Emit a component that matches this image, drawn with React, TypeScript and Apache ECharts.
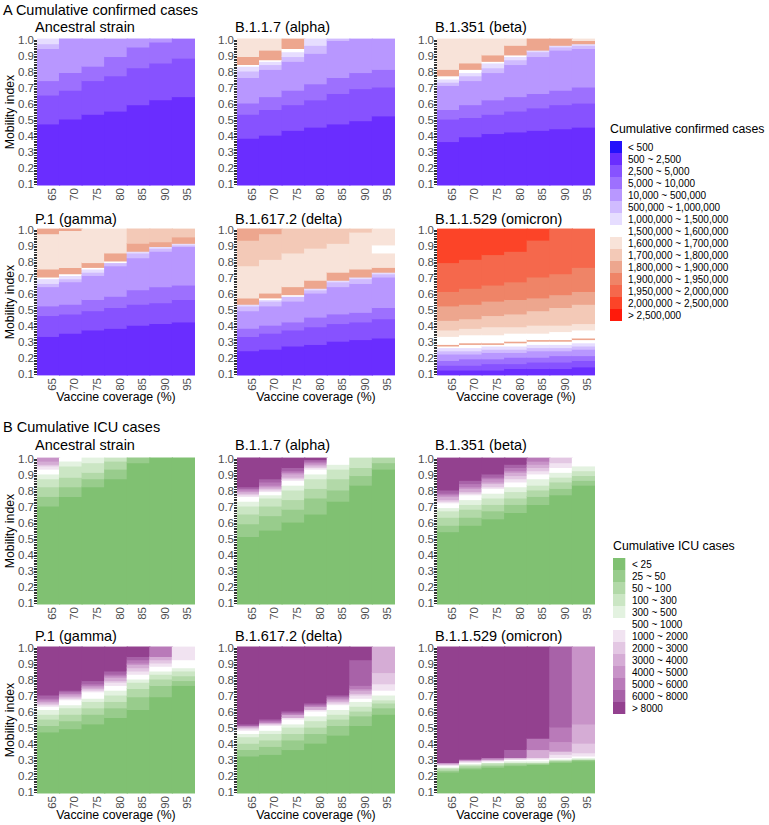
import React, { useEffect, useRef } from 'react';
import * as echarts from 'echarts';

// ---------- axis categories / tick labels ----------
const coverage = ['65', '70', '75', '80', '85', '90', '95'];
const mobilityLabels = ['0.1', '0.2', '0.3', '0.4', '0.5', '0.6', '0.7', '0.8', '0.9', '1.0'];

// ---------- legend levels ----------
const casesLevels = [
  '< 500', '500 ~ 2,500', '2,500 ~ 5,000', '5,000 ~ 10,000', '10,000 ~ 500,000',
  '500,000 ~ 1,000,000', '1,000,000 ~ 1,500,000', '1,500,000 ~ 1,600,000',
  '1,600,000 ~ 1,700,000', '1,700,000 ~ 1,800,000', '1,800,000 ~ 1,900,000',
  '1,900,000 ~ 1,950,000', '1,950,000 ~ 2,000,000', '2,000,000 ~ 2,500,000', '> 2,500,000',
];
const casesColors = [
  '#2412fb', '#6a2dff', '#8752ff', '#9d70fe', '#b897ff', '#d0bbff', '#e6ddff', '#ffffff',
  '#f8e3d9', '#f3c9b7', '#eda68e', '#ef8467', '#f5684c', '#fc4428', '#ff1a0b',
];
const icuLevels = [
  '< 25', '25 ~ 50', '50 ~ 100', '100 ~ 300', '300 ~ 500', '500 ~ 1000', '1000 ~ 2000',
  '2000 ~ 3000', '3000 ~ 4000', '4000 ~ 5000', '5000 ~ 6000', '6000 ~ 8000', '> 8000',
];
const icuColors = [
  '#80c172', '#98cc8c', '#b2d9a8', '#cbe6c4', '#e3f2e0', '#ffffff', '#f1e3f1',
  '#e3c7e3', '#d5acd5', '#c893c8', '#b97ab9', '#a862a8', '#93418f',
];

// ---------- data: per coverage column, bands [level, top mobility] from bottom ----------
const casesAncestral = [
  [[1, 0.47], [2, 0.65], [3, 0.74], [4, 0.94], [5, 0.97], [6, 1.0]],
  [[1, 0.50], [2, 0.68], [3, 0.79], [4, 1.0]],
  [[1, 0.53], [2, 0.74], [3, 0.83], [4, 1.0]],
  [[1, 0.55], [2, 0.77], [3, 0.89], [4, 1.0]],
  [[1, 0.59], [2, 0.82], [3, 0.95], [4, 1.0]],
  [[1, 0.62], [2, 0.85], [3, 0.98], [4, 1.0]],
  [[1, 0.64], [2, 0.88], [3, 1.0]],
];
const casesAlpha = [
  [[1, 0.38], [2, 0.53], [3, 0.60], [4, 0.76], [5, 0.80], [6, 0.83], [7, 0.84], [10, 0.89], [8, 1.0]],
  [[1, 0.40], [2, 0.56], [3, 0.64], [4, 0.81], [5, 0.84], [6, 0.86], [7, 0.87], [10, 0.93], [8, 1.0]],
  [[1, 0.43], [2, 0.59], [3, 0.68], [4, 0.86], [5, 0.89], [6, 0.92], [7, 0.94], [10, 1.0]],
  [[1, 0.45], [2, 0.62], [3, 0.72], [4, 0.91], [5, 0.96], [6, 1.0]],
  [[1, 0.47], [2, 0.66], [3, 0.76], [4, 0.99], [5, 1.0]],
  [[1, 0.49], [2, 0.69], [3, 0.79], [4, 1.0]],
  [[1, 0.52], [2, 0.70], [3, 0.81], [4, 1.0]],
];
const casesBeta = [
  [[1, 0.36], [2, 0.50], [3, 0.56], [4, 0.71], [5, 0.73], [6, 0.75], [7, 0.77], [10, 0.81], [8, 1.0]],
  [[1, 0.39], [2, 0.51], [3, 0.59], [4, 0.74], [5, 0.77], [6, 0.79], [7, 0.81], [10, 0.85], [8, 1.0]],
  [[1, 0.41], [2, 0.53], [3, 0.62], [4, 0.79], [5, 0.82], [6, 0.85], [7, 0.86], [10, 0.90], [8, 1.0]],
  [[1, 0.42], [2, 0.55], [3, 0.64], [4, 0.84], [5, 0.87], [6, 0.89], [7, 0.90], [10, 0.96], [8, 1.0]],
  [[1, 0.43], [2, 0.57], [3, 0.66], [4, 0.89], [5, 0.92], [6, 0.93], [10, 1.0]],
  [[1, 0.44], [2, 0.59], [3, 0.68], [4, 0.93], [5, 0.95], [6, 0.96], [10, 1.0]],
  [[1, 0.45], [2, 0.60], [3, 0.70], [4, 0.94], [5, 0.96], [6, 0.97], [10, 0.99], [8, 1.0]],
];
const casesGamma = [
  [[1, 0.33], [2, 0.46], [3, 0.52], [4, 0.64], [5, 0.66], [6, 0.69], [7, 0.70], [10, 0.75], [8, 0.97], [10, 1.0]],
  [[1, 0.35], [2, 0.47], [3, 0.53], [4, 0.67], [5, 0.69], [6, 0.71], [7, 0.72], [10, 0.76], [8, 0.99], [10, 1.0]],
  [[1, 0.37], [2, 0.49], [3, 0.56], [4, 0.71], [5, 0.73], [6, 0.75], [7, 0.76], [10, 0.79], [8, 1.0]],
  [[1, 0.38], [2, 0.51], [3, 0.58], [4, 0.77], [5, 0.79], [7, 0.80], [10, 0.85], [8, 1.0]],
  [[1, 0.40], [2, 0.53], [3, 0.62], [4, 0.82], [5, 0.85], [6, 0.86], [10, 0.91], [9, 1.0]],
  [[1, 0.41], [2, 0.54], [3, 0.64], [4, 0.86], [5, 0.88], [6, 0.89], [10, 0.92], [9, 1.0]],
  [[1, 0.42], [2, 0.56], [3, 0.65], [4, 0.89], [5, 0.90], [6, 0.91], [10, 0.95], [9, 1.0]],
];
const casesDelta = [
  [[1, 0.24], [2, 0.33], [3, 0.38], [4, 0.49], [5, 0.52], [6, 0.53], [10, 0.57], [8, 0.77], [9, 0.93], [10, 1.0]],
  [[1, 0.25], [2, 0.35], [3, 0.40], [4, 0.52], [5, 0.55], [6, 0.56], [7, 0.57], [10, 0.60], [8, 0.81], [9, 0.97], [10, 1.0]],
  [[1, 0.27], [2, 0.37], [3, 0.42], [4, 0.55], [5, 0.58], [7, 0.59], [10, 0.64], [8, 0.85], [9, 1.0]],
  [[1, 0.28], [2, 0.39], [3, 0.45], [4, 0.60], [5, 0.62], [6, 0.63], [10, 0.68], [8, 0.88], [9, 1.0]],
  [[1, 0.30], [2, 0.41], [3, 0.47], [4, 0.64], [5, 0.67], [6, 0.68], [10, 0.73], [8, 0.91], [9, 1.0]],
  [[1, 0.31], [2, 0.42], [3, 0.48], [4, 0.66], [5, 0.69], [6, 0.70], [10, 0.75], [8, 0.98], [9, 1.0]],
  [[1, 0.32], [2, 0.44], [3, 0.51], [4, 0.70], [5, 0.72], [6, 0.73], [10, 0.76], [8, 0.85], [7, 0.90], [8, 1.0]],
];
const casesOmicron = [
  [[1, 0.12], [2, 0.15], [3, 0.18], [4, 0.22], [5, 0.24], [6, 0.26], [7, 0.27], [10, 0.28], [7, 0.33], [8, 0.37], [9, 0.43], [10, 0.52], [11, 0.61], [12, 0.79], [13, 1.0]],
  [[1, 0.12], [2, 0.15], [3, 0.19], [4, 0.22], [5, 0.24], [6, 0.26], [7, 0.28], [10, 0.29], [7, 0.34], [8, 0.38], [9, 0.44], [10, 0.53], [11, 0.63], [12, 0.81], [13, 1.0]],
  [[1, 0.12], [2, 0.16], [3, 0.19], [4, 0.23], [5, 0.25], [6, 0.27], [7, 0.28], [10, 0.29], [7, 0.34], [8, 0.39], [9, 0.46], [10, 0.55], [11, 0.65], [12, 0.84], [13, 1.0]],
  [[1, 0.13], [2, 0.16], [3, 0.20], [4, 0.23], [5, 0.25], [6, 0.27], [7, 0.29], [10, 0.30], [7, 0.35], [8, 0.39], [9, 0.47], [10, 0.56], [11, 0.67], [12, 0.86], [13, 1.0]],
  [[1, 0.13], [2, 0.17], [3, 0.20], [4, 0.24], [5, 0.26], [6, 0.28], [7, 0.30], [10, 0.31], [7, 0.35], [8, 0.40], [9, 0.49], [10, 0.57], [11, 0.70], [12, 0.93], [13, 1.0]],
  [[1, 0.13], [2, 0.17], [3, 0.21], [4, 0.24], [5, 0.26], [6, 0.28], [7, 0.30], [10, 0.31], [7, 0.36], [8, 0.40], [9, 0.51], [10, 0.59], [11, 0.72], [12, 1.0]],
  [[1, 0.14], [2, 0.18], [3, 0.21], [4, 0.25], [5, 0.27], [6, 0.29], [7, 0.31], [10, 0.32], [7, 0.37], [8, 0.41], [9, 0.53], [10, 0.61], [11, 0.76], [12, 1.0]],
];

const icuAncestral = [
  [[0, 0.70], [1, 0.76], [2, 0.82], [3, 0.87], [4, 0.90], [5, 0.93], [6, 0.95], [7, 0.96], [8, 0.98], [9, 1.0]],
  [[0, 0.76], [1, 0.82], [2, 0.88], [3, 0.95], [4, 0.98], [5, 1.0]],
  [[0, 0.82], [1, 0.87], [2, 0.91], [3, 0.97], [4, 1.0]],
  [[0, 0.87], [1, 0.93], [2, 0.98], [3, 1.0]],
  [[0, 0.97], [1, 1.0]],
  [[0, 1.0]],
  [[0, 1.0]],
];
const icuAlpha = [
  [[0, 0.51], [1, 0.59], [2, 0.65], [3, 0.70], [4, 0.73], [5, 0.76], [6, 0.77], [7, 0.78], [8, 0.79], [9, 0.80], [10, 0.81], [11, 0.82], [12, 1.0]],
  [[0, 0.55], [1, 0.64], [2, 0.70], [3, 0.75], [4, 0.77], [5, 0.79], [6, 0.80], [7, 0.81], [8, 0.82], [9, 0.83], [10, 0.85], [11, 0.87], [12, 1.0]],
  [[0, 0.60], [1, 0.68], [2, 0.74], [3, 0.80], [4, 0.83], [5, 0.86], [6, 0.87], [7, 0.88], [8, 0.90], [9, 0.91], [10, 0.92], [11, 0.94], [12, 1.0]],
  [[0, 0.65], [1, 0.75], [2, 0.81], [3, 0.87], [4, 0.90], [5, 0.93], [6, 0.94], [7, 0.95], [8, 0.96], [9, 0.97], [10, 0.98], [11, 0.99], [12, 1.0]],
  [[0, 0.73], [1, 0.80], [2, 0.87], [3, 0.93], [4, 0.96], [5, 1.0]],
  [[0, 0.83], [1, 0.89], [2, 0.94], [3, 1.0]],
  [[0, 0.93], [1, 0.97], [2, 1.0]],
];
const icuBeta = [
  [[0, 0.54], [1, 0.58], [2, 0.63], [3, 0.67], [4, 0.69], [5, 0.72], [6, 0.73], [7, 0.74], [8, 0.76], [9, 0.77], [10, 0.78], [11, 0.80], [12, 1.0]],
  [[0, 0.58], [1, 0.63], [2, 0.68], [3, 0.71], [4, 0.74], [5, 0.77], [6, 0.78], [7, 0.79], [8, 0.81], [9, 0.82], [10, 0.84], [11, 0.86], [12, 1.0]],
  [[0, 0.62], [1, 0.67], [2, 0.71], [3, 0.75], [4, 0.78], [5, 0.81], [6, 0.82], [7, 0.84], [8, 0.85], [9, 0.87], [10, 0.88], [11, 0.90], [12, 1.0]],
  [[0, 0.66], [1, 0.71], [2, 0.75], [3, 0.79], [4, 0.82], [5, 0.85], [6, 0.87], [7, 0.89], [8, 0.91], [9, 0.92], [10, 0.94], [11, 0.96], [12, 1.0]],
  [[0, 0.71], [1, 0.76], [2, 0.80], [3, 0.83], [4, 0.87], [5, 0.90], [6, 0.92], [7, 0.94], [8, 0.96], [9, 0.98], [10, 1.0]],
  [[0, 0.77], [1, 0.81], [2, 0.85], [3, 0.88], [4, 0.91], [5, 0.94], [6, 0.97], [7, 1.0]],
  [[0, 0.83], [1, 0.86], [2, 0.89], [3, 0.92], [4, 0.95], [5, 1.0]],
];
const icuGamma = [
  [[0, 0.47], [1, 0.51], [2, 0.55], [3, 0.58], [4, 0.61], [5, 0.63], [6, 0.64], [7, 0.65], [8, 0.66], [9, 0.67], [10, 0.68], [11, 0.70], [12, 1.0]],
  [[0, 0.49], [1, 0.54], [2, 0.58], [3, 0.62], [4, 0.64], [5, 0.67], [6, 0.68], [7, 0.69], [8, 0.70], [9, 0.71], [10, 0.72], [11, 0.73], [12, 1.0]],
  [[0, 0.52], [1, 0.58], [2, 0.62], [3, 0.66], [4, 0.68], [5, 0.72], [6, 0.73], [7, 0.74], [8, 0.75], [9, 0.76], [10, 0.77], [11, 0.79], [12, 1.0]],
  [[0, 0.56], [1, 0.62], [2, 0.66], [3, 0.70], [4, 0.73], [5, 0.76], [6, 0.78], [7, 0.79], [8, 0.81], [9, 0.82], [10, 0.83], [11, 0.85], [12, 1.0]],
  [[0, 0.61], [1, 0.69], [2, 0.74], [3, 0.78], [4, 0.80], [5, 0.83], [6, 0.85], [7, 0.87], [8, 0.89], [9, 0.90], [10, 0.92], [11, 0.94], [12, 1.0]],
  [[0, 0.69], [1, 0.76], [2, 0.80], [3, 0.83], [4, 0.85], [5, 0.88], [6, 0.90], [7, 0.92], [8, 0.94], [10, 1.0]],
  [[0, 0.76], [1, 0.79], [2, 0.82], [3, 0.85], [4, 0.87], [5, 0.92], [6, 1.0]],
];
const icuDelta = [
  [[0, 0.32], [1, 0.36], [2, 0.40], [3, 0.44], [4, 0.46], [5, 0.48], [6, 0.49], [7, 0.50], [9, 0.51], [11, 0.52], [12, 1.0]],
  [[0, 0.33], [1, 0.38], [2, 0.42], [3, 0.46], [4, 0.48], [5, 0.51], [6, 0.52], [8, 0.53], [10, 0.54], [11, 0.55], [12, 1.0]],
  [[0, 0.36], [1, 0.42], [2, 0.46], [3, 0.50], [4, 0.52], [5, 0.55], [6, 0.56], [8, 0.58], [10, 0.59], [11, 0.60], [12, 1.0]],
  [[0, 0.40], [1, 0.46], [2, 0.50], [3, 0.54], [4, 0.57], [5, 0.60], [6, 0.61], [8, 0.63], [10, 0.64], [11, 0.65], [12, 1.0]],
  [[0, 0.45], [1, 0.51], [2, 0.55], [3, 0.58], [4, 0.61], [5, 0.64], [6, 0.65], [7, 0.66], [8, 0.67], [9, 0.68], [10, 0.69], [11, 0.70], [12, 1.0]],
  [[0, 0.51], [1, 0.57], [2, 0.60], [3, 0.63], [4, 0.66], [5, 0.68], [6, 0.70], [7, 0.71], [8, 0.73], [9, 0.74], [10, 0.76], [11, 0.92], [12, 1.0]],
  [[0, 0.58], [1, 0.62], [2, 0.65], [3, 0.67], [4, 0.70], [5, 0.73], [6, 0.77], [7, 0.84], [8, 1.0]],
];
const icuOmicron = [
  [[0, 0.22], [1, 0.23], [2, 0.24], [3, 0.25], [5, 0.26], [6, 0.27], [9, 0.28], [12, 1.0]],
  [[0, 0.24], [1, 0.25], [2, 0.26], [3, 0.27], [5, 0.28], [6, 0.29], [9, 0.30], [12, 1.0]],
  [[0, 0.25], [1, 0.26], [2, 0.27], [3, 0.28], [5, 0.29], [7, 0.30], [10, 0.31], [12, 1.0]],
  [[0, 0.26], [1, 0.27], [2, 0.28], [4, 0.29], [5, 0.30], [7, 0.31], [11, 0.36], [12, 1.0]],
  [[0, 0.27], [2, 0.28], [4, 0.29], [5, 0.30], [6, 0.31], [8, 0.36], [10, 0.43], [12, 1.0]],
  [[0, 0.28], [1, 0.29], [3, 0.30], [5, 0.31], [6, 0.33], [7, 0.35], [9, 0.41], [10, 0.50], [11, 1.0]],
  [[0, 0.29], [1, 0.30], [4, 0.31], [5, 0.32], [6, 0.34], [7, 0.40], [8, 0.52], [9, 1.0]],
];

const strainTitles = ['Ancestral strain', 'B.1.1.7 (alpha)', 'B.1.351 (beta)', 'P.1 (gamma)', 'B.1.617.2 (delta)', 'B.1.1.529 (omicron)'];
const casesPanels = [casesAncestral, casesAlpha, casesBeta, casesGamma, casesDelta, casesOmicron];
const icuPanels = [icuAncestral, icuAlpha, icuBeta, icuGamma, icuDelta, icuOmicron];

// ---------- layout ----------
const FONT = '"Liberation Sans", Arial, Helvetica, sans-serif';
const colLeft = [37, 237, 437];
const rowTop = [39, 229, 458, 647];
const plotW = 158;
const plotH = 146;

function toRects(cols: number[][][]) {
  const out: number[][] = [];
  cols.forEach((bands, c) => {
    let prev = 0.09;
    bands.forEach(([lvl, top]) => {
      if (top > prev + 1e-9) out.push([c, prev + 0.005, top + 0.005, lvl]);
      prev = top;
    });
  });
  return out;
}

export default function App() {
  const ref = useRef<HTMLDivElement>(null);
  useEffect(() => {
    const chart = echarts.init(ref.current!, null, { renderer: 'svg' });
    const rows = Array.from({ length: 91 }, (_, i) => (0.1 + i * 0.01).toFixed(2));
    const grids: any[] = [];
    const xAxes: any[] = [];
    const yAxes: any[] = [];
    const series: any[] = [];
    const graphics: any[] = [];

    const panels = [
      ...casesPanels.map((d, i) => ({ data: d, title: strainTitles[i], colors: casesColors, row: Math.floor(i / 3), col: i % 3 })),
      ...icuPanels.map((d, i) => ({ data: d, title: strainTitles[i], colors: icuColors, row: 2 + Math.floor(i / 3), col: i % 3 })),
    ];
    const titleY = [26.5, 218.5, 444.5, 635.5];

    panels.forEach((p, k) => {
      const left = colLeft[p.col];
      const top = rowTop[p.row];
      grids.push({ left, top, width: plotW, height: plotH, containLabel: false, outerBoundsMode: 'none' });
      xAxes.push({
        type: 'category', gridIndex: k, data: coverage, boundaryGap: true,
        axisLine: { show: false }, axisTick: { show: false }, splitLine: { show: false },
        axisLabel: {
          rotate: 90, interval: 0, margin: 3, fontSize: 11.5, color: '#4d4d4d', fontFamily: FONT,
          verticalAlign: 'top', lineHeight: 7,
        },
      });
      yAxes.push({ type: 'value', gridIndex: k, min: 0.095, max: 1.005, show: false });
      yAxes.push({
        type: 'category', gridIndex: k, data: rows, position: 'left', boundaryGap: true,
        axisLine: { show: false }, splitLine: { show: false },
        axisTick: { show: true, alignWithLabel: true, interval: 0, length: 3, lineStyle: { color: '#333', width: 1 } },
        axisLabel: {
          interval: (i: number) => i % 10 === 0,
          formatter: (_v: string, i: number) => (i % 10 === 0 ? mobilityLabels[i / 10] : ''),
          margin: 3, fontSize: 11.5, color: '#4d4d4d', fontFamily: FONT,
        },
      });
      const colors = p.colors;
      series.push({
        type: 'custom', xAxisIndex: k, yAxisIndex: 2 * k, silent: true,
        data: toRects(p.data), encode: { x: 0, y: [1, 2] },
        renderItem: (_params: any, api: any) => {
          const c = api.value(0);
          const lo = api.coord([c, api.value(1)]);
          const hi = api.coord([c, api.value(2)]);
          const w = api.size([1, 0])[0];
          const padL = c === 0 ? 0 : 0.6;
          const padR = c === coverage.length - 1 ? 0 : 0.6;
          return {
            type: 'rect',
            shape: { x: lo[0] - w / 2 - padL, y: hi[1] - 0.4, width: w + padL + padR, height: lo[1] - hi[1] + 0.8 },
            style: { fill: colors[api.value(3)] },
          };
        },
      });
      graphics.push({
        type: 'text', x: left - 2, y: titleY[p.row],
        style: { text: p.title, font: `14.5px ${FONT}`, fill: '#000', align: 'left', verticalAlign: 'middle' },
      });
    });

    // section headings
    graphics.push({ type: 'text', x: 3, y: 10, style: { text: 'A Cumulative confirmed cases', font: `14.5px ${FONT}`, fill: '#000', align: 'left', verticalAlign: 'middle' } });
    graphics.push({ type: 'text', x: 3, y: 426.5, style: { text: 'B Cumulative ICU cases', font: `14.5px ${FONT}`, fill: '#000', align: 'left', verticalAlign: 'middle' } });

    // axis titles
    rowTop.forEach((t) => {
      graphics.push({ type: 'text', x: 10, y: t + plotH / 2, rotation: Math.PI / 2, style: { text: 'Mobility index', font: `12.3px ${FONT}`, fill: '#000', align: 'center', verticalAlign: 'middle' } });
    });
    [397, 815].forEach((yy) => {
      colLeft.forEach((l) => {
        graphics.push({ type: 'text', x: l + plotW / 2, y: yy, style: { text: 'Vaccine coverage (%)', font: `12.3px ${FONT}`, fill: '#000', align: 'center', verticalAlign: 'middle' } });
      });
    });

    // legends
    const legend = (title: string, labels: string[], colors: string[], x: number, titleY0: number, y0: number, kw: number, lx: number) => {
      graphics.push({ type: 'text', x, y: titleY0, style: { text: title, font: `12.3px ${FONT}`, fill: '#000', align: 'left', verticalAlign: 'middle' } });
      labels.forEach((lab, i) => {
        graphics.push({ type: 'rect', shape: { x, y: y0 + i * 12, width: kw, height: 12 }, style: { fill: colors[i] } });
        graphics.push({ type: 'text', x: lx, y: y0 + i * 12 + 6, style: { text: lab, font: `10px ${FONT}`, fill: '#000', align: 'left', verticalAlign: 'middle' } });
      });
    };
    legend('Cumulative confirmed cases', casesLevels, casesColors, 610, 129, 141, 12, 628);
    legend('Cumulative ICU cases', icuLevels, icuColors, 613, 546, 558, 12.3, 632);

    chart.setOption({
      animation: false,
      backgroundColor: '#ffffff',
      grid: grids,
      xAxis: xAxes,
      yAxis: yAxes,
      series,
      graphic: { elements: graphics },
    });
    return () => chart.dispose();
  }, []);
  return <div ref={ref} style={{ position: 'absolute', left: 0, top: 0, width: 769, height: 825 }} />;
}
